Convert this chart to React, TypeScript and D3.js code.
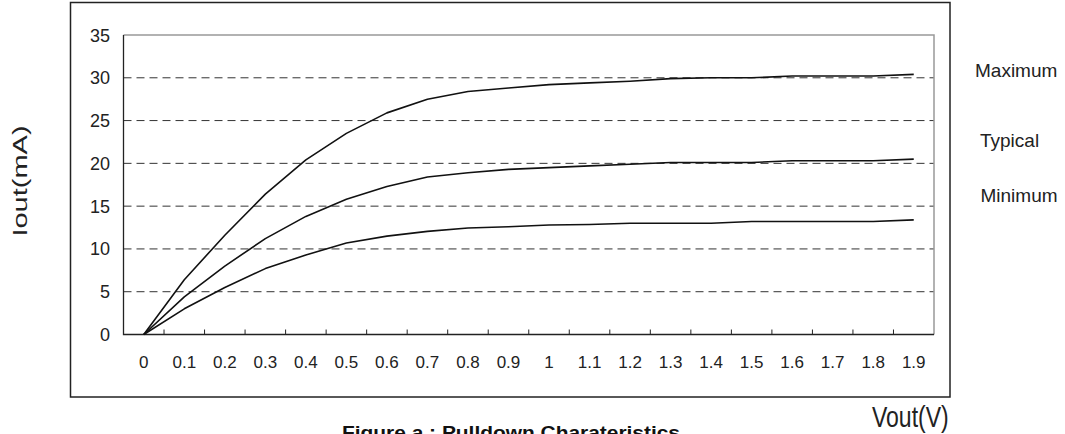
// @ts-nocheck
import React, { useEffect, useRef } from "react";
import * as d3 from "d3";

const vout = ["0", "0.1", "0.2", "0.3", "0.4", "0.5", "0.6", "0.7", "0.8", "0.9", "1", "1.1", "1.2", "1.3", "1.4", "1.5", "1.6", "1.7", "1.8", "1.9"];

const maximum = [0, 6.4, 11.6, 16.4, 20.4, 23.5, 25.9, 27.5, 28.4, 28.8, 29.2, 29.4, 29.6, 29.9, 30.0, 30.0, 30.2, 30.2, 30.2, 30.4];
const typical = [0, 4.4, 8.0, 11.2, 13.8, 15.8, 17.3, 18.4, 18.9, 19.3, 19.5, 19.7, 19.9, 20.1, 20.1, 20.1, 20.3, 20.3, 20.3, 20.5];
const minimum = [0, 3.0, 5.5, 7.7, 9.3, 10.7, 11.5, 12.05, 12.45, 12.6, 12.8, 12.85, 13.0, 13.0, 13.0, 13.2, 13.2, 13.2, 13.2, 13.4];

const yTicks = [0, 5, 10, 15, 20, 25, 30, 35];
const seriesNames = ["Maximum", "Typical", "Minimum"];

export default function App() {
  const svgRef = useRef(null);

  useEffect(() => {
    const svg = d3.select(svgRef.current);
    svg.selectAll("*").remove();
    const font = "'Liberation Sans', Arial, sans-serif";

    const left = 123.5, right = 934, top = 35, bottom = 334.5;

    const x = d3.scaleBand().domain(vout).range([left, right]).padding(0);
    const y = d3.scaleLinear().domain([0, 35]).range([bottom, top]);
    const cx = (d) => x(d) + x.bandwidth() / 2;

    // outer frame
    svg.append("rect")
      .attr("x", 70.5).attr("y", 2.5).attr("width", 879.5).attr("height", 394.5)
      .attr("fill", "none").attr("stroke", "#222").attr("stroke-width", 1.5);

    // gridlines
    svg.append("g").selectAll("line")
      .data(yTicks.filter(t => t > 0 && t < 35))
      .join("line")
      .attr("x1", left).attr("x2", right)
      .attr("y1", d => y(d)).attr("y2", d => y(d))
      .attr("stroke", "#333").attr("stroke-width", 1)
      .attr("stroke-dasharray", "8,5");

    // plot border top/right
    svg.append("path")
      .attr("d", `M${left},${y(35)}H${right}V${bottom}`)
      .attr("fill", "none").attr("stroke", "#999").attr("stroke-width", 1.5);

    // axes
    svg.append("path")
      .attr("d", `M${left},${top}V${bottom}H${right}`)
      .attr("fill", "none").attr("stroke", "#222").attr("stroke-width", 1.3);

    // x tick marks at category boundaries
    svg.append("g").selectAll("line")
      .data(vout.slice(1))
      .join("line")
      .attr("x1", d => x(d)).attr("x2", d => x(d))
      .attr("y1", bottom).attr("y2", bottom - 5)
      .attr("stroke", "#222").attr("stroke-width", 1);

    // y tick labels
    svg.append("g").selectAll("text")
      .data(yTicks)
      .join("text")
      .attr("x", 110).attr("y", d => y(d) + 6.5)
      .attr("text-anchor", "end")
      .attr("font-family", font).attr("font-size", 18).attr("fill", "#222")
      .text(d => d);

    // x tick labels
    svg.append("g").selectAll("text")
      .data(vout)
      .join("text")
      .attr("x", d => cx(d)).attr("y", 368)
      .attr("text-anchor", "middle")
      .attr("font-family", font).attr("font-size", 17).attr("fill", "#222")
      .text(d => d);

    // lines
    const line = d3.line().x((d, i) => cx(vout[i])).y(d => y(d));
    [maximum, typical, minimum].forEach(s => {
      svg.append("path")
        .datum(s)
        .attr("d", line)
        .attr("fill", "none").attr("stroke", "#111").attr("stroke-width", 1.6)
        .attr("stroke-linejoin", "round");
    });

    // series labels
    const labelPos = [[975, 77], [980, 147], [980.5, 202]];
    seriesNames.forEach((n, i) => {
      svg.append("text")
        .attr("x", labelPos[i][0]).attr("y", labelPos[i][1])
        .attr("font-family", font).attr("font-size", 19).attr("fill", "#222")
        .text(n);
    });

    // y axis title
    svg.append("text")
      .attr("transform", "translate(27,181) rotate(-90) scale(1.38,1)")
      .attr("text-anchor", "middle")
      .attr("font-family", font).attr("font-size", 21).attr("fill", "#222")
      .text("Iout(mA)");

    // x axis title
    svg.append("text")
      .attr("transform", "translate(872,426.7) scale(1,1.3)")
      .attr("font-family", font).attr("font-size", 23).attr("fill", "#222")
      .text("Vout(V)");

    // caption
    svg.append("text")
      .attr("x", 342).attr("y", 438.5)
      .attr("font-family", font).attr("font-size", 19).attr("font-weight", "bold").attr("fill", "#111")
      .attr("textLength", 338).attr("lengthAdjust", "spacingAndGlyphs")
      .text("Figure a : Pulldown Charateristics");
  }, []);

  return (
    <svg
      ref={svgRef}
      width={1065}
      height={434}
      style={{ position: "absolute", left: 0, top: 0, background: "#fff" }}
    />
  );
}
